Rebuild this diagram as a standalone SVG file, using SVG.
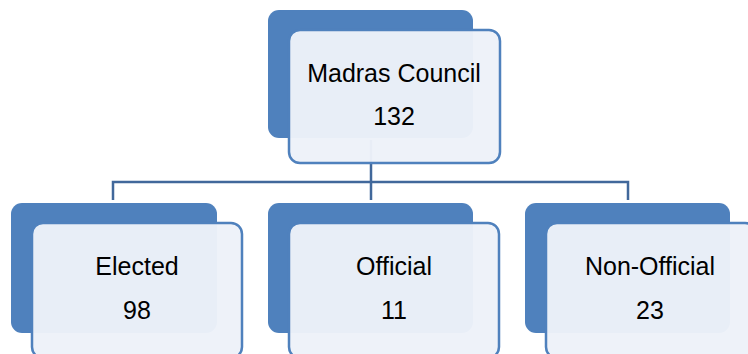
<svg xmlns="http://www.w3.org/2000/svg" width="748" height="354" viewBox="0 0 748 354">
<style>
.back{fill:#4f81bd}
.front{fill:#edf2f9;fill-opacity:0.97;stroke:#4f81bd;stroke-width:2.5}
.conn{fill:none;stroke:#41689b;stroke-width:2.5}
text{font-family:"Liberation Sans",Arial,sans-serif;font-size:25px;fill:#000;text-anchor:middle}
</style>
<rect width="748" height="354" fill="#fff"/>
<g id="connectors">
<path class="conn" d="M371 140V182M113 200V182H628V200M371 182V200"/>
</g>
<g id="node-madras">
<rect class="back" x="268" y="10" width="205" height="128" rx="11"/>
<rect class="front" x="289" y="30" width="211" height="133" rx="11"/>
<text x="394" y="82">Madras Council</text>
<text x="394" y="125">132</text>
</g>
<g id="node-elected">
<rect class="back" x="11" y="203" width="206" height="130" rx="11"/>
<rect class="front" x="32" y="223" width="210" height="135" rx="11"/>
<text x="137" y="275">Elected</text>
<text x="137" y="319">98</text>
</g>
<g id="node-official">
<rect class="back" x="268" y="203" width="205" height="130" rx="11"/>
<rect class="front" x="289" y="223" width="210" height="135" rx="11"/>
<text x="394" y="275">Official</text>
<text x="394" y="319">11</text>
</g>
<g id="node-nonofficial">
<rect class="back" x="525" y="203" width="205" height="130" rx="11"/>
<rect class="front" x="546" y="223" width="210" height="135" rx="11"/>
<text x="650" y="275">Non-Official</text>
<text x="650" y="319">23</text>
</g>
</svg>
